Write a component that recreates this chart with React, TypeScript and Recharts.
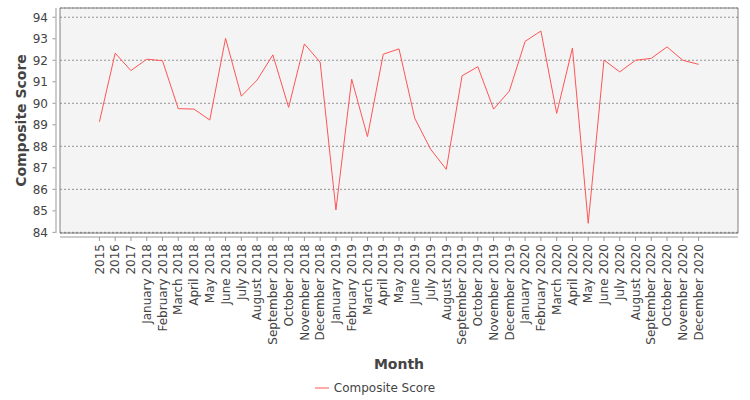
import React from 'react';
import {
  LineChart,
  Line,
  XAxis,
  YAxis,
  CartesianGrid,
  ReferenceArea,
  Legend,
  Label,
} from 'recharts';

const MONTHS = [
  '2015', '2016', '2017',
  'January 2018', 'February 2018', 'March 2018', 'April 2018', 'May 2018', 'June 2018',
  'July 2018', 'August 2018', 'September 2018', 'October 2018', 'November 2018', 'December 2018',
  'January 2019', 'February 2019', 'March 2019', 'April 2019', 'May 2019', 'June 2019',
  'July 2019', 'August 2019', 'September 2019', 'October 2019', 'November 2019', 'December 2019',
  'January 2020', 'February 2020', 'March 2020', 'April 2020', 'May 2020', 'June 2020',
  'July 2020', 'August 2020', 'September 2020', 'October 2020', 'November 2020', 'December 2020',
];

const SCORES = [
  89.14, 92.33, 91.52,
  92.05, 91.98, 89.75, 89.73, 89.22, 93.02,
  90.33, 91.08, 92.25, 89.81, 92.76, 91.91,
  85.04, 91.12, 88.45, 92.28, 92.53, 89.3,
  87.87, 86.93, 91.28, 91.7, 89.73, 90.57,
  92.88, 93.36, 89.53, 92.57, 84.42, 92.01,
  91.46, 92.0, 92.09, 92.62, 92.0, 91.81,
];

const Y_TICKS = [84, 85, 86, 87, 88, 89, 90, 91, 92, 93, 94];
const Y_DOMAIN: [number, number] = [83.97, 94.43];
const X_DOMAIN: [number, number] = [-2.5, 40.5];

const data = MONTHS.map((m, i) => ({ idx: i, month: m, score: SCORES[i] }));
const xTicks = data.map((d) => d.idx);

const TEXT = '#444444';
const AXIS = '#999999';

function MonthTick({ x, y, payload }: any) {
  return (
    <text
      transform={`translate(${x},${y + 7}) rotate(-90)`}
      textAnchor="end"
      dy="0.35em"
      fontSize={12}
      fill={TEXT}
    >
      {MONTHS[payload.value]}
    </text>
  );
}

function LegendContent({ payload }: any) {
  const items = payload || [];
  return (
    <div
      style={{
        display: 'flex',
        justifyContent: 'center',
        alignItems: 'center',
        height: 16,
        fontSize: 12,
        color: TEXT,
      }}
    >
      {items.map((item: any, i: number) => (
        <span key={i} style={{ display: 'flex', alignItems: 'center' }}>
          <svg width={14} height={4} style={{ marginRight: 5 }}>
            <line x1={0} y1={2} x2={14} y2={2} stroke={item.color} strokeWidth={1} />
          </svg>
          {item.value}
        </span>
      ))}
    </div>
  );
}

export default function App() {
  return (
    <div style={{ position: 'absolute', left: 0, top: 0, fontFamily: 'DejaVu Sans' }}>
      <LineChart
        width={750}
        height={400}
        data={data}
        margin={{ top: 8, right: 12, bottom: 0, left: 0 }}
      >
        <CartesianGrid
          vertical={false}
          fill="#f4f4f4"
          stroke="#7a7a7a"
          strokeWidth={0.8}
          strokeDasharray="2 2"
        />
        <ReferenceArea
          x1={X_DOMAIN[0]}
          x2={X_DOMAIN[1]}
          y1={Y_DOMAIN[0]}
          y2={Y_DOMAIN[1]}
          fill="none"
          stroke="#808080"
          strokeWidth={1}
        />
        <XAxis
          type="number"
          dataKey="idx"
          domain={X_DOMAIN}
          ticks={xTicks}
          interval={0}
          height={167}
          tickSize={4}
          tickMargin={0}
          axisLine={{ stroke: AXIS, transform: 'translate(0,4)' }}
          tickLine={{ stroke: AXIS, transform: 'translate(0,4)' }}
          tick={<MonthTick />}
        >
          <Label
            content={({ viewBox }: any) => (
              <text
                x={viewBox.x + viewBox.width / 2}
                y={viewBox.y + 136}
                textAnchor="middle"
                fontSize={14}
                fontWeight="bold"
                fill={TEXT}
              >
                Month
              </text>
            )}
          />
        </XAxis>
        <YAxis
          type="number"
          domain={Y_DOMAIN}
          ticks={Y_TICKS}
          width={60}
          tickSize={3}
          tickMargin={9}
          axisLine={{ stroke: AXIS, transform: 'translate(-4,0)' }}
          tickLine={{ stroke: AXIS, transform: 'translate(-4.5,0)' }}
          tick={{ fontSize: 12, fill: TEXT }}
        >
          <Label
            content={({ viewBox }: any) => {
              const cx = viewBox.x + 20.5;
              const cy = viewBox.y + viewBox.height / 2;
              return (
                <text
                  x={cx}
                  y={cy}
                  transform={`rotate(-90 ${cx} ${cy})`}
                  textAnchor="middle"
                  dominantBaseline="central"
                  fontSize={14}
                  fontWeight="bold"
                  fill={TEXT}
                >
                  Composite Score
                </text>
              );
            }}
          />
        </YAxis>
        <Line
          type="linear"
          dataKey="score"
          name="Composite Score"
          stroke="#ff5555"
          strokeWidth={1}
          dot={false}
          isAnimationActive={false}
        />
        <Legend
          layout="horizontal"
          verticalAlign="middle"
          align="center"
          wrapperStyle={{ top: 380, left: 0, width: 750 }}
          content={<LegendContent />}
        />
      </LineChart>
    </div>
  );
}
